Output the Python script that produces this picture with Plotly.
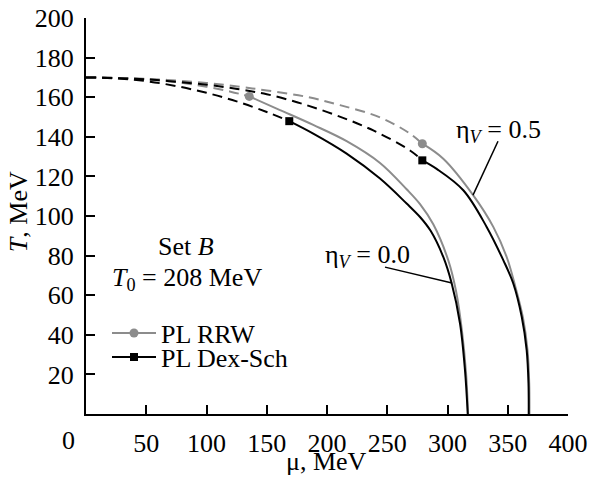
import plotly.graph_objects as go

# ---- data (mu in MeV, T in MeV) ----
# eta_V = 0.0, PL RRW (gray): crossover (dashed) and first-order (solid)
rrw0_cross_mu = [0, 25, 50, 75, 100, 120, 135.5]
rrw0_cross_T = [170, 169.7, 169.0, 167.6, 165.3, 162.8, 160.4]
rrw0_first_mu = [135.5, 161.0, 188.6, 216.3, 244.0, 266.1, 277.2, 288.2, 300.7, 307.1, 312.0, 315.4, 317.1]
rrw0_first_T = [160.4, 153.5, 146.0, 137.8, 126.8, 113.5, 106.0, 95.8, 77.5, 62.0, 42.0, 20.5, 0]

# eta_V = 0.0, PL Dex-Sch (black)
dex0_cross_mu = [0, 25, 50, 75, 100, 125, 150, 168.7]
dex0_cross_T = [170, 169.5, 168.1, 165.6, 162.2, 157.9, 152.5, 147.9]
dex0_first_mu = [168.7, 188.6, 216.3, 244.0, 266.1, 277.2, 286.0, 296.5, 303.5, 310.4, 314.5, 316.8]
dex0_first_T = [147.9, 141.6, 131.5, 118.9, 106.3, 99.5, 92.5, 79.3, 65.9, 45.7, 22.2, 0]

# eta_V = 0.5, PL RRW (gray)
rrw5_cross_mu = [0, 50, 100, 128, 150, 183, 210.8, 244, 268.9, 279.1]
rrw5_cross_T = [170, 169.3, 167.2, 165.2, 163.4, 160.2, 156.0, 149.8, 141.6, 136.5]
rrw5_first_mu = [279.1, 296.5, 321.4, 338.0, 349.1, 356.0, 362.7, 366.4, 367.8, 368.0]
rrw5_first_T = [136.5, 128.9, 110.4, 94.5, 79.3, 65.0, 48.4, 32.3, 15.6, 0]

# eta_V = 0.5, PL Dex-Sch (black)
dex5_cross_mu = [0, 50, 100, 128, 150, 177.6, 208, 238.4, 268.9, 279.1]
dex5_cross_T = [170, 169.0, 166.3, 163.9, 161.5, 157.0, 150.8, 143.2, 133.1, 128.1]
dex5_first_mu = [279.1, 291.0, 313.1, 332.5, 346.3, 354.6, 361.6, 365.7, 367.2, 367.4]
dex5_first_T = [128.1, 123.8, 113.0, 94.5, 77.7, 65.9, 49.1, 32.3, 15.5, 0]

# critical end points
cep_rrw_mu = [135.5, 279.1]
cep_rrw_T = [160.4, 136.5]
cep_dex_mu = [168.7, 279.1]
cep_dex_T = [147.9, 128.1]

x_ticks = [50, 100, 150, 200, 250, 300, 350, 400]
y_ticks = [20, 40, 60, 80, 100, 120, 140, 160, 180, 200]

GRAY = "#8c8c8c"
BLACK = "#000000"
FONT = "Liberation Serif"
FS = 26
DASH = "10px,6px"

fig = go.Figure()

def add_line(mu, T, color, dash):
    fig.add_trace(go.Scatter(x=mu, y=T, mode="lines", showlegend=False, hoverinfo="skip",
                             line=dict(color=color, width=2, dash=dash, shape="spline", smoothing=1.0)))

add_line(rrw0_cross_mu, rrw0_cross_T, GRAY, DASH)
add_line(rrw5_cross_mu, rrw5_cross_T, GRAY, DASH)
add_line(dex0_cross_mu, dex0_cross_T, BLACK, DASH)
add_line(dex5_cross_mu, dex5_cross_T, BLACK, DASH)
add_line(rrw0_first_mu, rrw0_first_T, GRAY, "solid")
add_line(rrw5_first_mu, rrw5_first_T, GRAY, "solid")
add_line(dex0_first_mu, dex0_first_T, BLACK, "solid")
add_line(dex5_first_mu, dex5_first_T, BLACK, "solid")

fig.add_trace(go.Scatter(x=cep_rrw_mu, y=cep_rrw_T, mode="markers", showlegend=False, hoverinfo="skip",
                         marker=dict(symbol="circle", size=9, color=GRAY)))
fig.add_trace(go.Scatter(x=cep_dex_mu, y=cep_dex_T, mode="markers", showlegend=False, hoverinfo="skip",
                         marker=dict(symbol="square", size=8, color=BLACK)))

# legend entries
fig.add_trace(go.Scatter(x=[None], y=[None], mode="lines+markers", name="PL RRW", legend="legend",
                         line=dict(color=GRAY, width=2), marker=dict(symbol="circle", size=9, color=GRAY)))
fig.add_trace(go.Scatter(x=[None], y=[None], mode="lines+markers", name="PL Dex-Sch", legend="legend2",
                         line=dict(color=BLACK, width=2), marker=dict(symbol="square", size=8, color=BLACK)))

H0, H1 = 414.0, 17.7
def py(p):
    return (H0 - p) / (H0 - H1)
def px(p):
    return (p - 86.0) / (568.0 - 86.0)

legend_common = dict(xanchor="left", yanchor="middle", itemwidth=44, bgcolor="rgba(0,0,0,0)",
                     font=dict(family=FONT, size=FS, color="black"), borderwidth=0)
fig.update_layout(
    legend=dict(x=px(107), y=py(333), **legend_common),
    legend2=dict(x=px(107), y=py(357), **legend_common),
)

ann_font = dict(family=FONT, size=FS, color="black")
annotations = [
    dict(text="Set <i>B</i>", x=px(186), y=py(246)),
    dict(text="<i>T</i><sub>0</sub> = 208 MeV", x=px(187), y=py(279)),
    dict(text="η<sub><i>V</i></sub> = 0.5", x=px(498), y=py(131)),
    dict(text="η<sub><i>V</i></sub> = 0.0", x=px(367), y=py(256)),
    dict(text="0", x=px(68), y=py(441)),
    dict(text="μ, MeV", x=px(326), y=py(462)),
    dict(text="<i>T</i>, MeV", x=px(18), y=py(212), textangle=-90),
]
for a in annotations:
    fig.add_annotation(xref="paper", yref="paper", showarrow=False, xanchor="center", yanchor="middle",
                       font=ann_font, **a)

# leader lines
fig.add_shape(type="line", xref="paper", yref="paper", x0=px(498), y0=py(141), x1=px(473), y1=py(195),
              line=dict(color="black", width=1.5))
fig.add_shape(type="line", xref="paper", yref="paper", x0=px(385), y0=py(267), x1=px(452), y1=py(283),
              line=dict(color="black", width=1.5))

axis_common = dict(ticks="inside", ticklen=9, tickwidth=2, tickcolor="black", showline=True, linewidth=2,
                   linecolor="black", showgrid=False, zeroline=False, automargin=False,
                   tickfont=dict(family=FONT, size=FS, color="black"))
fig.update_xaxes(range=[0, 400], tickvals=x_ticks, ticklabelstandoff=5, **axis_common)
fig.update_yaxes(range=[0, 200], tickvals=y_ticks, ticklabelstandoff=5, **axis_common)

fig.update_layout(width=590, height=479, margin=dict(l=86, r=22, t=18, b=65, pad=0, autoexpand=False),
                  plot_bgcolor="white", paper_bgcolor="white")

fig.write_html("out.html", config={"displayModeBar": False},
               post_script="document.body.style.margin='0';")
